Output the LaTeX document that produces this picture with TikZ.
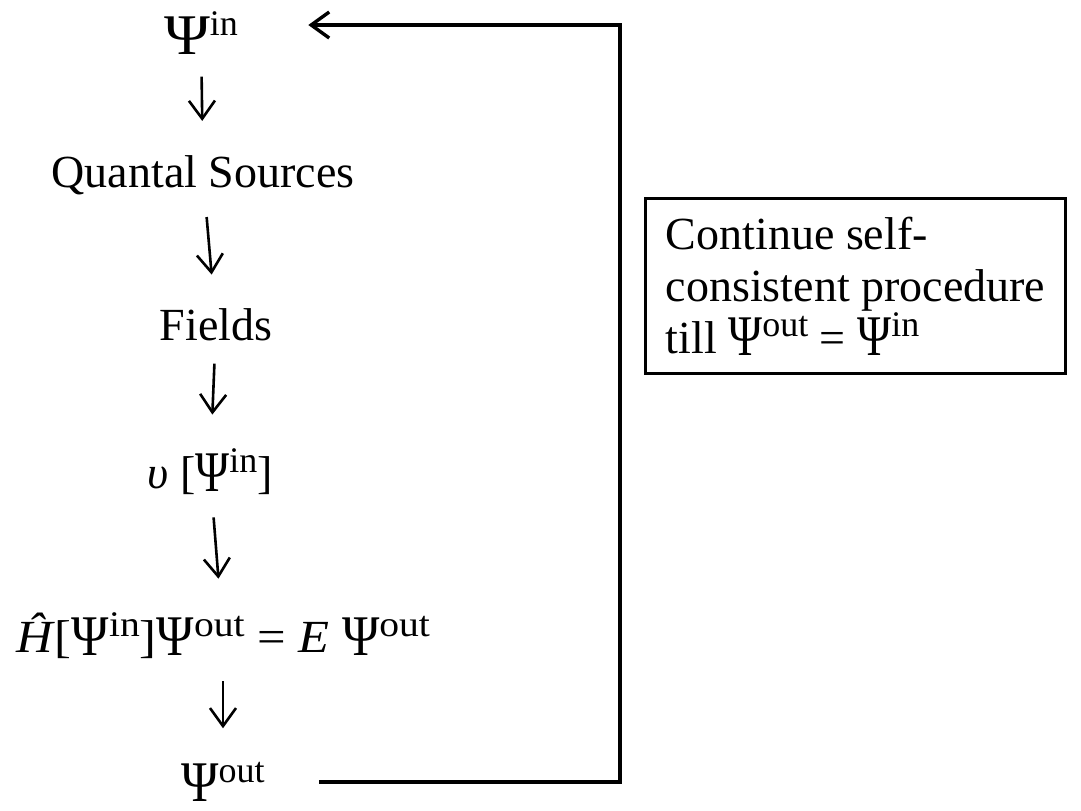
\documentclass[tikz,border=0pt]{standalone}
\usepackage{fontspec}
\setmainfont{Liberation Serif}
\usepackage{graphicx}
\usepackage{tikz}
\usetikzlibrary{arrows.meta}
\newcommand{\wf}[2][1]{\raisebox{-0.05em}{\scalebox{#1}[1.25]{Ψ}}\raisebox{0.35em}{\fontsize{18}{18}\selectfont #2}}
\tikzset{
  stage/.style={
    inner sep=0pt,
    font=\fontsize{23}{26}\selectfont
  },
  flow/.style={
    -{Straight Barb[length=9pt,width=13pt]},
    line width=1.3pt,
    shorten <=11pt,
    shorten >=17pt
  },
  loopline/.style={
    -{Straight Barb[length=9pt,width=13pt]},
    line width=1.7pt
  },
  notebox/.style={
    draw,
    line width=1.6pt,
    align=left,
    inner xsep=10pt,
    inner ysep=9pt,
    font=\fontsize{23}{26}\selectfont
  }
}

\begin{document}
\begin{tikzpicture}[x=0.5pt,y=-0.5pt]
  \useasboundingbox (0,0) rectangle (1081,810);
  \node[stage] (psiin) at (201,33) {\wf[1.35]{in}};
  \node[stage] (sources) at (203,175) {Quantal Sources};
  \node[stage] (fields) at (216,325) {Fields};
  \node[stage] (pot) at (210,472) {\textit{υ} [\wf{in}]};
  \node[stage] (ham) at (223,636) {\scalebox{1.1}[1]{\textit{Ĥ}[\wf{in}]\wf{out} = \textit{E} \wf{out}}};
  \node[stage] (psiout) at (223,782) {\wf[1.1]{out}};
  \node[notebox] (note) at (855.5,286) {Continue self-\\consistent procedure\\till \wf{out} = \wf{in}};
  \coordinate (looptop) at (620,25);
  \foreach \a/\b in {psiin/sources,sources/fields,fields/pot,pot/ham,ham/psiout}{\draw[flow] (\a) -- (\b);}
  \draw[loopline,shorten <=27pt,shorten >=35pt] (psiout.east) -| (looptop) -- (looptop -| psiin.east);
\end{tikzpicture}
\end{document}
